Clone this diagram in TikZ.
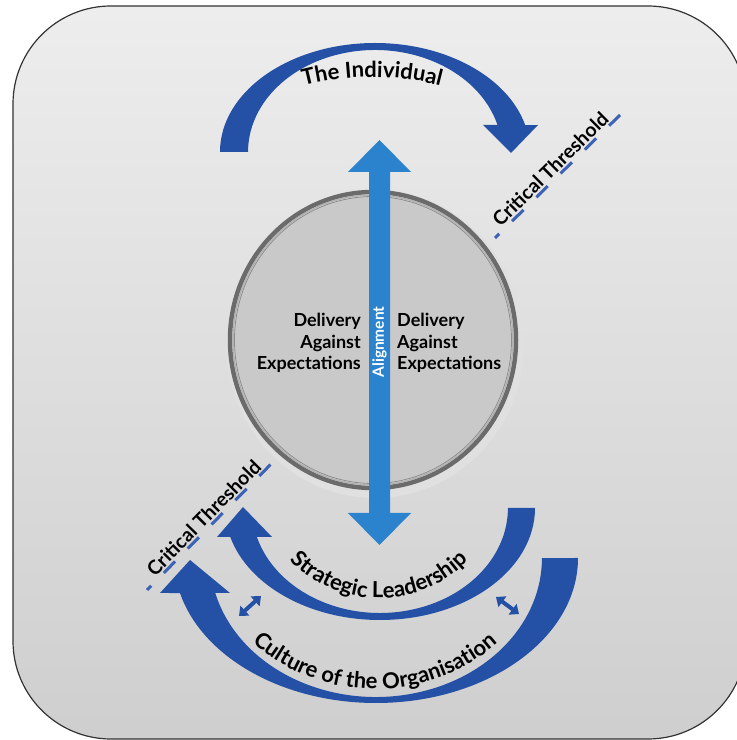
\documentclass[tikz,border=0pt]{standalone}
\usepackage{fontspec}
\setmainfont{Lato}
\usepackage{tikz}
\usetikzlibrary{positioning, arrows.meta, decorations.text}
\usepackage{xcolor}
\definecolor{arcblue}{HTML}{2450A6}
\definecolor{alignblue}{HTML}{2B83CE}
\definecolor{dashblue}{HTML}{3D63B5}
\newcommand{\arclabelfont}{\fontsize{22}{26}\selectfont\bfseries}
\newcommand{\delivfont}{\fontsize{18}{21.5}\selectfont\bfseries}
\newcommand{\threshfont}{\fontsize{19.5}{22}\selectfont\bfseries}

\begin{document}
\begin{tikzpicture}[x=1pt, y=1pt, every node/.style={font=\bfseries},
    threshold/.style={dashblue, line width=3pt, dash pattern=on 16pt off 18pt, dash phase=10pt},
    twoway/.style={{Triangle[width=13pt,length=8pt]}-{Triangle[width=13pt,length=8pt]}, arcblue, line width=4pt},
    arclabel/.style={decorate, decoration={text along path, text align=center, text={|\arclabelfont|#1}}}]
    \useasboundingbox (0,0) rectangle (737,740);

    % background panel
    \begin{scope}
        \clip (0,0) rectangle (737,740);
        \draw[black!80, line width=1.2pt, rounded corners=98pt, top color=black!7, middle color=black!9, bottom color=black!19]
            (13,1) rectangle (746,734);
    \end{scope}

    % disc in the middle
    \fill[black!12] (375,396) ellipse[x radius=149, y radius=154];
    \draw[black!58, line width=4.5pt] (373,400) ellipse[x radius=143, y radius=148];
    \draw[black!30, line width=1.5pt] (373,400) ellipse[x radius=140, y radius=145];
    \draw[black!45, fill=black!21, line width=0.8pt] (373,400) ellipse[x radius=138.5, y radius=143.5];

    % alignment arrow
    \fill[alignblue] (369,227) -- (348,227) -- (379.5,195) -- (411,227) -- (390,227) -- (390,568)
        -- (411,568) -- (379.5,600) -- (348,568) -- (369,568) -- cycle;
    \node[rotate=90, text=white, font=\bfseries\fontsize{15.5}{18}\selectfont] (align) at (379.5,398) {Alignment};

    % delivery labels
    \node[align=right, anchor=east, inner sep=0pt, font=\delivfont] (delivL) at (361,397) {Delivery\\Against\\Expectations};
    \node[align=left, anchor=west, inner sep=0pt, font=\delivfont] (delivR) at (397,397) {Delivery\\Against\\Expectations};

    % the individual (top)
    \fill[arcblue] (220,588) arc[start angle=180, end angle=14.3, x radius=155, y radius=109]
        -- (538,615) -- (511,587) -- (483,615) -- (497.5,615)
        arc[start angle=15.35, end angle=180, x radius=127, y radius=102] -- cycle;
    \path[arclabel=The Individual] (372,393) ++(120:270) arc[start angle=120, end angle=60, radius=270];

    % strategic leadership
    \fill[arcblue] (535,232) arc[start angle=0, end angle=-165, x radius=155, y radius=112]
        -- (217,203) -- (243,233) -- (272,203) -- (256.9,203)
        arc[start angle=-163.96, end angle=0, x radius=128, y radius=105] -- cycle;
    \path[arclabel=Strategic Leadership] (379,267) ++(200:125) arc[start angle=200, end angle=340, radius=125];

    % culture of the organisation
    \fill[arcblue] (578,182) arc[start angle=0, end angle=-166.03, x radius=202, y radius=145]
        -- (160,147) -- (190,180) -- (230,147) -- (215.3,147)
        arc[start angle=-165.42, end angle=0, x radius=166, y radius=139] -- cycle;
    \path[arclabel=Culture of the Organisation] (375,237) ++(200:186) arc[start angle=200, end angle=340, radius=186];

    % two-way links between the lower arcs
    \coordinate (linkLa) at (239,124);
    \coordinate (linkLb) at (261,144);
    \coordinate (linkRa) at (496,143);
    \coordinate (linkRb) at (519,126);
    \draw[twoway] (linkLa) -- (linkLb);
    \draw[twoway] (linkRa) -- (linkRb);

    % critical thresholds
    \coordinate (thrUa) at (495,502);
    \coordinate (thrUb) at (620,625);
    \coordinate (thrLa) at (147,150);
    \coordinate (thrLb) at (275,280);
    \draw[threshold] (thrUa) -- node[sloped, above, text=black, inner sep=1.5pt, font=\threshfont] (thrU) {Critical Threshold} (thrUb);
    \draw[threshold] (thrLa) -- node[sloped, above, text=black, inner sep=1.5pt, font=\threshfont] (thrL) {Critical Threshold} (thrLb);
\end{tikzpicture}
\end{document}
